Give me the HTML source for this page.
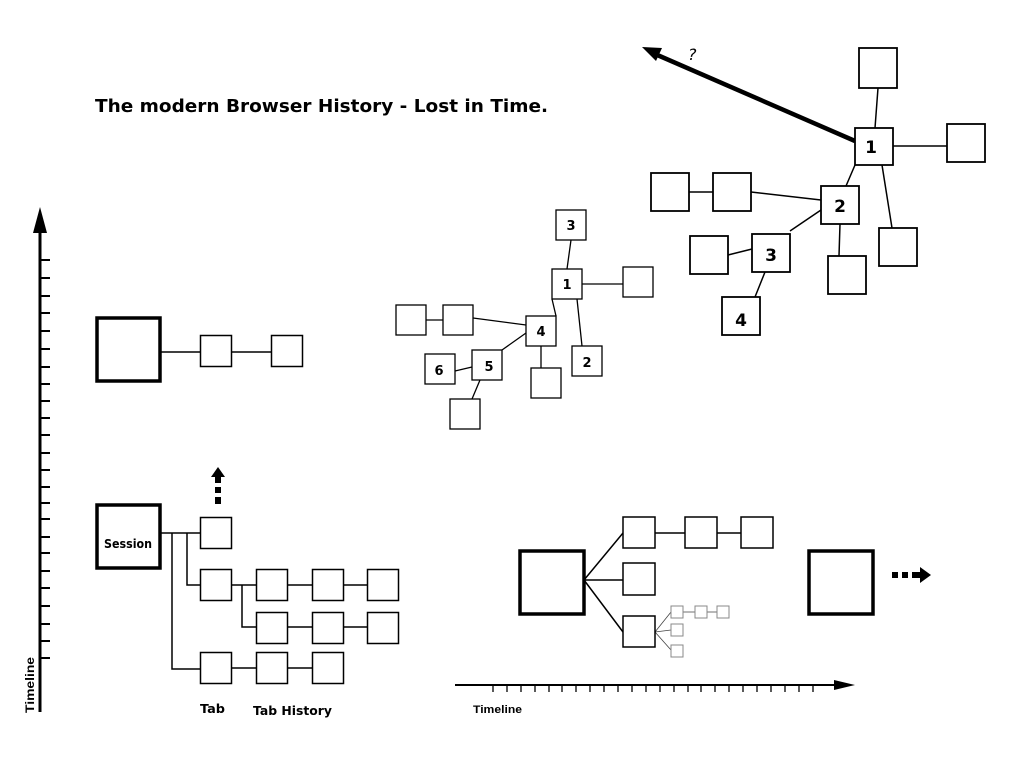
<!DOCTYPE html>
<html><head><meta charset="utf-8"><style>
html,body{margin:0;padding:0;background:#fff}
svg{display:block}
.h{font-family:"DejaVu Sans","Liberation Sans",sans-serif;font-weight:bold}
</style></head><body>
<svg width="1024" height="768" viewBox="0 0 1024 768" xmlns="http://www.w3.org/2000/svg">
<rect width="1024" height="768" fill="#fff"/>
<text class="h" x="95" y="112" font-size="18" textLength="453" lengthAdjust="spacingAndGlyphs">The modern Browser History - Lost in Time.</text>

<!-- vertical timeline -->
<line x1="40" y1="230" x2="40" y2="712" stroke="#000" stroke-width="3"/>
<polygon points="40,207 33,233 47,233" fill="#000"/>
<g stroke="#000" stroke-width="2">
<path d="M40 260H50M40 278H50M40 296H50M40 313H50M40 331H50M40 349H50M40 367H50M40 384H50M40 401H50M40 418H50M40 435H50M40 453H50M40 470H50M40 487H50M40 503H50M40 519H50M40 537H50M40 553H50M40 571H50M40 588H50M40 606H50M40 624H50M40 641H50M40 658H50"/>
</g>
<text x="34" y="713" font-family="Liberation Sans,sans-serif" font-size="12" font-weight="bold" transform="rotate(-90 34 713)" textLength="56" lengthAdjust="spacingAndGlyphs">Timeline</text>

<!-- top-left session -->
<g fill="#fff" stroke="#000">
<line x1="161" y1="352" x2="200" y2="352" stroke-width="1.5"/>
<line x1="232" y1="352" x2="271" y2="352" stroke-width="1.5"/>
<rect x="97" y="318" width="63" height="63" stroke-width="3.5"/>
<rect x="200.5" y="335.5" width="31" height="31" stroke-width="1.5"/>
<rect x="271.5" y="335.5" width="31" height="31" stroke-width="1.5"/>
</g>

<!-- session tree -->
<g fill="none" stroke="#000" stroke-width="1.5">
<path d="M161 533H200M172 533V669H200M187 533V585H200M232 585H256M242 585V627H256M287 585H312M343 585H367M287 627H312M343 627H367M232 668H256M287 668H312"/>
</g>
<g fill="#fff" stroke="#000" stroke-width="1.5">
<rect x="97" y="505" width="63" height="63" stroke-width="3.5"/>
<rect x="200.5" y="517.5" width="31" height="31"/>
<rect x="200.5" y="569.5" width="31" height="31"/>
<rect x="256.5" y="569.5" width="31" height="31"/>
<rect x="312.5" y="569.5" width="31" height="31"/>
<rect x="367.5" y="569.5" width="31" height="31"/>
<rect x="256.5" y="612.5" width="31" height="31"/>
<rect x="312.5" y="612.5" width="31" height="31"/>
<rect x="367.5" y="612.5" width="31" height="31"/>
<rect x="200.5" y="652.5" width="31" height="31"/>
<rect x="256.5" y="652.5" width="31" height="31"/>
<rect x="312.5" y="652.5" width="31" height="31"/>
</g>
<text class="h" x="104" y="548" font-size="12" textLength="48" lengthAdjust="spacingAndGlyphs">Session</text>
<text class="h" x="200" y="713" font-size="12" textLength="25" lengthAdjust="spacingAndGlyphs">Tab</text>
<text class="h" x="253" y="715" font-size="12" textLength="79" lengthAdjust="spacingAndGlyphs">Tab History</text>
<polygon points="218,467 211,477 225,477" fill="#000"/>
<rect x="215" y="477" width="6" height="6" fill="#000"/>
<rect x="215" y="487" width="6" height="6" fill="#000"/>
<rect x="215" y="497" width="6" height="7" fill="#000"/>

<!-- middle cluster -->
<g stroke="#000" stroke-width="1.3" fill="none">
<path d="M571 240L567 269M582 284H623M556 316L552 299M577 299L582 346M526 325L473 318M426 320H443M541 346V368M526 333L502 350M472 367L455 371M480 380L472 399"/>
</g>
<g fill="#fff" stroke="#000" stroke-width="1.3">
<rect x="556" y="210" width="30" height="30"/>
<rect x="552" y="269" width="30" height="30"/>
<rect x="623" y="267" width="30" height="30"/>
<rect x="526" y="316" width="30" height="30"/>
<rect x="396" y="305" width="30" height="30"/>
<rect x="443" y="305" width="30" height="30"/>
<rect x="572" y="346" width="30" height="30"/>
<rect x="531" y="368" width="30" height="30"/>
<rect x="472" y="350" width="30" height="30"/>
<rect x="425" y="354" width="30" height="30"/>
<rect x="450" y="399" width="30" height="30"/>
</g>
<g class="h" font-size="13" text-anchor="middle">
<text x="571" y="230">3</text><text x="567" y="289">1</text><text x="541" y="336">4</text>
<text x="587" y="367">2</text><text x="489" y="371">5</text><text x="439" y="375">6</text>
</g>

<!-- right cluster -->
<line x1="855" y1="141" x2="655" y2="54" stroke="#000" stroke-width="4.5"/>
<polygon points="642,47 662,48 656,61" fill="#000"/>
<text x="688" y="60" font-family="DejaVu Sans,sans-serif" font-size="16" font-style="italic">?</text>
<g stroke="#000" stroke-width="1.5" fill="none">
<path d="M878 88L875 128M893 146H947M855 165L846 186M882 165L892 228M821 200L751 192M689 192H713M821 210L790 231M752 249L728 255M765 272L755 297M840 224L839 256"/>
</g>
<g fill="#fff" stroke="#000" stroke-width="1.8">
<rect x="859" y="48" width="38" height="40"/>
<rect x="855" y="128" width="38" height="37"/>
<rect x="947" y="124" width="38" height="38"/>
<rect x="821" y="186" width="38" height="38"/>
<rect x="651" y="173" width="38" height="38"/>
<rect x="713" y="173" width="38" height="38"/>
<rect x="752" y="234" width="38" height="38"/>
<rect x="690" y="236" width="38" height="38"/>
<rect x="722" y="297" width="38" height="38"/>
<rect x="828" y="256" width="38" height="38"/>
<rect x="879" y="228" width="38" height="38"/>
</g>
<g class="h" font-size="17" text-anchor="middle">
<text x="871" y="153">1</text><text x="840" y="212">2</text><text x="771" y="261">3</text><text x="741" y="326">4</text>
</g>

<!-- bottom right -->
<g stroke="#000" stroke-width="1.5" fill="none">
<path d="M584 580L623 533M584 580H623M584 580L623 632M655 533H685M717 533H741"/>
</g>
<g stroke="#444" stroke-width="0.8" fill="none">
<path d="M655 632L671 612M655 632L671 630M655 632L671 650M683 612H695M707 612H717"/>
</g>
<g fill="#fff" stroke="#000" stroke-width="1.5">
<rect x="520" y="551" width="64" height="63" stroke-width="3.5"/>
<rect x="623" y="517" width="32" height="31"/>
<rect x="685" y="517" width="32" height="31"/>
<rect x="741" y="517" width="32" height="31"/>
<rect x="623" y="563" width="32" height="32"/>
<rect x="623" y="616" width="32" height="31"/>
<rect x="809" y="551" width="64" height="63" stroke-width="3.5"/>
</g>
<g fill="#fff" stroke="#888" stroke-width="1">
<rect x="671" y="606" width="12" height="12"/><rect x="695" y="606" width="12" height="12"/><rect x="717" y="606" width="12" height="12"/>
<rect x="671" y="624" width="12" height="12"/><rect x="671" y="645" width="12" height="12"/>
</g>
<rect x="892" y="572" width="6" height="6" fill="#000"/>
<rect x="902" y="572" width="6" height="6" fill="#000"/>
<rect x="912" y="572" width="8" height="6" fill="#000"/>
<polygon points="920,567 931,575 920,583" fill="#000"/>

<!-- horizontal timeline -->
<line x1="455" y1="685" x2="838" y2="685" stroke="#000" stroke-width="2"/>
<polygon points="855,685 834,680 834,690" fill="#000"/>
<g stroke="#000" stroke-width="1.3">
<path d="M493 686V692M507 686V692M521 686V692M535 686V692M549 686V692M562 686V692M576 686V692M590 686V692M604 686V692M618 686V692M632 686V692M646 686V692M660 686V692M674 686V692M688 686V692M701 686V692M715 686V692M729 686V692M743 686V692M757 686V692M771 686V692M785 686V692M799 686V692M813 686V692"/>
</g>
<text x="473" y="713" font-family="Liberation Sans,sans-serif" font-size="11" font-weight="bold" textLength="49" lengthAdjust="spacingAndGlyphs">Timeline</text>
</svg>
</body></html>
